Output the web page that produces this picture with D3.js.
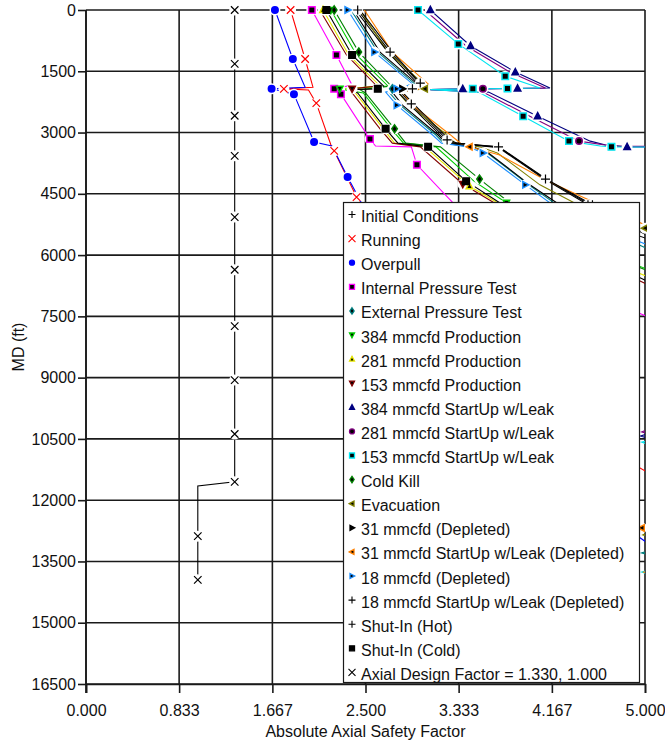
<!DOCTYPE html>
<html>
<head>
<meta charset="utf-8">
<script src="https://cdn.jsdelivr.net/npm/d3@7"></script>
<style>
  body { margin: 0; background: #fff; }
  text { font-family: "Liberation Sans", Arial, sans-serif; font-size: 16px; fill: #111; }
</style>
</head>
<body>
<svg id="chart" width="665" height="740"></svg>
<script>
// axis ticks
const xTicks = [0, 0.833, 1.667, 2.5, 3.333, 4.167, 5.0];
const xTickLabels = ["0.000", "0.833", "1.667", "2.500", "3.333", "4.167", "5.000"];
const yTicks = [0, 1500, 3000, 4500, 6000, 7500, 9000, 10500, 12000, 13500, 15000, 16500];

// series: [absolute axial safety factor, MD (ft), symbol plotted at this sample]
const initialConditions = [[2.43,0,1],[2.72,1030,1],[2.99,1810,0],[2.92,1930,1],[2.81,2010,0],[2.91,2300,1],[3.23,3180,1],[3.30,3260,0],[3.69,3350,1],[4.11,4140,1],[4.51,4770,0],[5.05,5510,0]];
const running = [[1.83,0,1],[1.96,1200,1],[2.03,1890,0],[1.77,1930,1],[1.99,1960,0],[2.06,2280,1],[2.19,3300,0],[2.22,3450,1],[2.42,4580,1],[2.72,5880,0],[3.17,7590,1],[3.88,9550,0],[4.60,10650,1],[5.05,11360,0]];
const overpull = [[1.69,0,1],[1.85,1200,1],[1.96,1890,0],[1.66,1930,1],[1.86,2060,1],[2.04,3230,1],[2.20,3330,0],[2.34,4090,1],[2.45,4650,0],[2.81,6610,1],[3.35,8810,0],[4.06,10770,1],[4.60,12240,0],[5.05,13100,0]];
const internalPressure = [[2.02,0,1],[2.24,1100,1],[2.38,1840,0],[2.22,1930,1],[2.28,2060,1],[2.54,3160,1],[2.59,3330,0],[2.91,3350,0],[2.96,3790,1],[3.24,4600,0],[3.52,5390,1],[4.24,6610,1],[5.05,7540,0]];
const externalPressure = [[2.37,0,0],[2.61,1030,0],[2.94,1810,0],[2.74,1930,1],[2.71,2010,0],[2.81,2330,0],[3.13,3060,0],[3.20,3260,0],[3.45,3350,0],[3.59,3500,0],[3.96,4280,0],[4.28,4900,1],[5.05,5880,0],[5.67,7100,0],[5.67,12730,0],[4.97,13290,0],[5.67,13830,0]];
const prod384 = [[2.19,0,1],[2.42,1100,0],[2.70,1860,0],[2.27,1930,1],[2.48,2030,0],[2.73,2910,0],[2.84,3260,0],[3.13,3350,0],[3.47,4190,0],[3.76,4720,1],[4.29,5630,0],[5.05,6370,0]];
const prod281 = [[2.12,0,1],[2.35,1100,0],[2.63,1860,0],[2.33,1930,0],[2.41,2030,0],[2.66,2910,0],[2.76,3260,0],[3.03,3350,0],[3.43,4310,1],[3.68,4720,0],[4.21,5630,0],[5.05,6560,0]];
const prod153 = [[2.09,0,0],[2.33,1100,0],[2.60,1860,0],[2.38,1930,1],[2.38,2030,0],[2.63,2910,0],[2.74,3260,0],[2.99,3350,0],[3.37,4260,1],[3.65,4720,0],[4.19,5630,0],[5.05,6760,0]];
const startup384 = [[3.08,0,1],[3.44,880,1],[3.84,1520,1],[4.15,1910,0],[3.86,1920,1],[3.37,1930,1],[3.08,1950,0],[3.60,2010,0],[4.04,2600,1],[4.51,3210,0],[4.64,3300,0],[4.84,3350,1],[5.67,3360,0],[5.67,9800,0],[4.96,10430,0],[5.67,11020,0]];
const startup281 = [[3.03,0,0],[3.40,880,0],[3.79,1520,0],[4.11,1910,0],[3.55,1930,1],[3.08,1950,0],[3.55,2010,0],[3.97,2600,0],[4.41,3210,1],[4.70,3330,0],[5.67,3350,0],[5.67,9550,0],[4.97,10330,0],[5.67,10890,0]];
const startup153 = [[2.97,0,1],[3.33,830,1],[3.75,1620,1],[4.06,1910,0],[3.77,1920,1],[3.46,1930,1],[3.08,1950,0],[3.51,2010,0],[3.91,2600,1],[4.32,3210,1],[4.60,3330,0],[4.70,3350,1],[5.67,3360,0],[5.67,10040,0],[4.97,10580,0],[5.67,11260,0],[5.67,13220,0],[4.97,13760,0],[5.67,14440,0]];
const coldKill = [[2.22,0,1],[2.44,1030,1],[2.73,1860,0],[2.45,1950,0],[2.50,2030,0],[2.76,2910,1],[2.86,3260,0],[3.17,3350,0],[3.52,4140,1],[3.79,4720,0],[4.33,5630,1],[5.05,6410,0]];
const evacuation = [[2.45,0,0],[2.70,1030,0],[3.02,1810,0],[3.03,1930,1],[2.79,2010,0],[2.89,2330,0],[3.23,3060,0],[3.30,3260,0],[3.52,3350,0],[3.68,3500,0],[4.06,4280,0],[4.40,4770,0],[5.00,5340,1],[5.67,6000,0],[5.67,12000,0],[4.98,12850,0],[5.67,13460,0]];
const depleted31 = [[2.39,0,0],[2.63,1030,0],[2.96,1810,0],[2.83,1930,1],[2.74,2010,0],[2.83,2330,0],[3.15,3060,0],[3.22,3260,0],[3.46,3350,0],[3.60,3500,0],[3.97,4280,0],[4.31,4900,1],[5.05,5630,0]];
const depletedStartup31 = [[2.49,0,0],[2.74,1030,0],[3.06,1810,0],[2.99,1930,0],[2.83,2010,0],[2.92,2330,0],[3.26,3060,0],[3.35,3260,0],[3.43,3350,1],[3.70,3550,0],[4.11,4160,0],[4.44,4580,0],[5.00,5260,0],[5.67,5880,0],[5.67,12000,0],[4.97,12680,1],[5.67,13100,0],[5.67,13460,0],[4.98,13760,0],[5.67,14200,0]];
const depleted18 = [[2.34,0,1],[2.58,1030,1],[2.92,1810,0],[2.78,1930,1],[2.68,2010,0],[2.78,2330,1],[3.10,3060,0],[3.18,3260,0],[3.42,3350,0],[3.55,3500,1],[3.93,4280,1],[4.24,4900,0],[5.05,5780,0]];
const depletedStartup18 = [[2.45,0,0],[2.74,1030,0],[2.99,1790,1],[2.94,1930,0],[2.83,2010,0],[2.93,2300,0],[3.25,3180,0],[3.32,3260,0],[3.71,3380,0],[4.13,4160,0],[4.53,4770,1],[5.05,5460,0]];
const shutInHot = [[2.41,0,0],[2.70,1030,0],[2.97,1810,0],[2.91,1930,0],[2.79,2010,0],[2.89,2300,0],[3.21,3180,0],[3.28,3260,0],[3.68,3350,0],[4.10,4140,0],[4.49,4770,1],[5.05,5560,0]];
const shutInCold = [[2.15,0,1],[2.38,1100,1],[2.66,1860,0],[2.61,1930,1],[2.36,1950,0],[2.43,2030,0],[2.68,2910,1],[2.79,3260,0],[3.06,3350,1],[3.40,4190,1],[3.70,4720,0],[4.24,5630,1],[5.05,6680,0]];
const designFactor = [[1.33,0,1],[1.33,1320,1],[1.33,2590,1],[1.33,3570,1],[1.33,5070,1],[1.33,6360,1],[1.33,7740,1],[1.33,9060,1],[1.33,10380,1],[1.33,11550,1],[1.00,11650,0],[1.00,12880,1],[1.00,13950,1]];

const seriesNames = ["Initial Conditions", "Running", "Overpull", "Internal Pressure Test", "External Pressure Test",
  "384 mmcfd Production", "281 mmcfd Production", "153 mmcfd Production", "384 mmcfd StartUp w/Leak",
  "281 mmcfd StartUp w/Leak", "153 mmcfd StartUp w/Leak", "Cold Kill", "Evacuation", "31 mmcfd (Depleted)",
  "31 mmcfd StartUp w/Leak (Depleted)", "18 mmcfd (Depleted)", "18 mmcfd StartUp w/Leak (Depleted)",
  "Shut-In (Hot)", "Shut-In (Cold)", "Axial Design Factor = 1.330, 1.000"];
const seriesData = [initialConditions, running, overpull, internalPressure, externalPressure, prod384, prod281, prod153,
  startup384, startup281, startup153, coldKill, evacuation, depleted31, depletedStartup31, depleted18,
  depletedStartup18, shutInHot, shutInCold, designFactor];
const seriesColors = ["#000000", "#ff0000", "#0000ff", "#ff00ff", "#008080", "#00cc00", "#e6e600", "#800000",
  "#000080", "#800080", "#00e5f0", "#008000", "#808000", "#000000", "#ff8000", "#1e90ff", "#000000",
  "#000000", "#000000", "#000000"];
const seriesSymbols = ["plus", "cross", "circle", "square", "diamond", "triDown", "triUp", "triDown", "triUp",
  "circle", "square", "diamond", "triLeft", "triRight", "triLeft", "triRight", "plus", "plus", "square", "cross"];

// layout
const margin = { top: 10, right: 20, bottom: 56, left: 86 };
const W = 665, H = 740;
const w = W - margin.left - margin.right;
const h = H - margin.top - margin.bottom;

const svg = d3.select("#chart");

const xScale = d3.scaleLinear().domain([0, 5]).range([margin.left, margin.left + w]);
const yScale = d3.scaleLinear().domain([0, 16500]).range([margin.top, margin.top + h]);

// grid
svg.append("g").selectAll("line.vg").data(xTicks).join("line")
  .attr("x1", d => xScale(d)).attr("x2", d => xScale(d))
  .attr("y1", margin.top).attr("y2", margin.top + h)
  .attr("stroke", "#1a1a1a").attr("stroke-width", 1.6);
svg.append("g").selectAll("line.hg").data(yTicks).join("line")
  .attr("x1", margin.left).attr("x2", margin.left + w)
  .attr("y1", d => yScale(d)).attr("y2", d => yScale(d))
  .attr("stroke", "#1a1a1a").attr("stroke-width", 1.6);

// axes
const xAxis = svg.append("g")
  .attr("transform", `translate(0,${margin.top + h})`)
  .call(d3.axisBottom(xScale).tickValues(xTicks).tickFormat((d, i) => xTickLabels[i]).tickSize(9).tickPadding(12));
const yAxis = svg.append("g")
  .attr("transform", `translate(${margin.left},0)`)
  .call(d3.axisLeft(yScale).tickValues(yTicks).tickFormat(d => d).tickSize(8).tickPadding(2));
[xAxis, yAxis].forEach(a => {
  a.select(".domain").attr("stroke", "#1a1a1a").attr("stroke-width", 1.6);
  a.selectAll(".tick line").attr("stroke", "#1a1a1a").attr("stroke-width", 1.6);
  a.selectAll("text").attr("font-size", 16).attr("font-family", null).style("fill", "#111");
});
yAxis.select(".domain").attr("d", `M0,${margin.top}V${margin.top + h + 9}`);

svg.append("text")
  .attr("x", xScale(2.5)).attr("y", 737)
  .attr("text-anchor", "middle")
  .text("Absolute Axial Safety Factor");
svg.append("text")
  .attr("transform", `translate(24,${margin.top + h / 2}) rotate(-90)`)
  .attr("text-anchor", "middle")
  .text("MD (ft)");

// symbols
function symbolPath(type, s) {
  const r = s / 2;
  switch (type) {
    case "plus": return `M${-r},0H${r}M0,${-r}V${r}`;
    case "cross": return `M${-r},${-r}L${r},${r}M${-r},${r}L${r},${-r}`;
    case "circle": return d3.symbol(d3.symbolCircle, Math.PI * r * r)();
    case "square": return `M${-r},${-r}H${r}V${r}H${-r}Z`;
    case "diamond": return `M0,${-r * 1.25}L${r * 0.85},0L0,${r * 1.25}L${-r * 0.85},0Z`;
    case "triUp": return `M0,${-r * 1.1}L${r},${r * 0.8}L${-r},${r * 0.8}Z`;
    case "triDown": return `M0,${r * 1.1}L${r},${-r * 0.8}L${-r},${-r * 0.8}Z`;
    case "triLeft": return `M${-r * 1.1},0L${r * 0.8},${-r}L${r * 0.8},${r}Z`;
    case "triRight": return `M${r * 1.1},0L${-r * 0.8},${-r}L${-r * 0.8},${r}Z`;
  }
}
const lineSymbol = t => t === "plus" || t === "cross";
const symbolFill = i => (seriesColors[i] === "#0000ff" || seriesColors[i] === "#000080") ? seriesColors[i] : "#000";
const plotSize = t => t === "plus" ? 9 : t === "cross" ? 7.5 : 6.5;

// clip
const defs = svg.append("defs");
defs.append("clipPath").attr("id", "plotClip").append("rect")
  .attr("x", margin.left).attr("y", margin.top).attr("width", w).attr("height", h);
defs.append("clipPath").attr("id", "markClip").append("rect")
  .attr("x", 0).attr("y", 0).attr("width", margin.left + w + 2).attr("height", H);

const line = d3.line().x(d => xScale(d[0])).y(d => yScale(d[1]));

// lines
const lineLayer = svg.append("g").attr("clip-path", "url(#plotClip)");
lineLayer.selectAll("path")
  .data(seriesData.map((pts, i) => ({ pts, i })))
  .join("path")
  .attr("d", d => line(d.pts))
  .attr("fill", "none")
  .attr("stroke", d => seriesColors[d.i])
  .attr("stroke-width", 1.1);

// markers
const marks = [];
seriesData.forEach((pts, i) => pts.forEach(p => { if (p[2]) marks.push({ v: p[0], md: p[1], i }); }));
const markLayer = svg.append("g").attr("clip-path", "url(#markClip)");
markLayer.selectAll("circle.halo").data(marks).join("circle")
  .attr("class", "halo")
  .attr("cx", d => xScale(d.v)).attr("cy", d => yScale(d.md))
  .attr("r", 5.5).attr("fill", "#fff");
markLayer.selectAll("path.mk").data(marks).join("path")
  .attr("class", "mk")
  .attr("transform", d => `translate(${xScale(d.v)},${yScale(d.md)})`)
  .attr("d", d => symbolPath(seriesSymbols[d.i], plotSize(seriesSymbols[d.i])))
  .attr("fill", d => lineSymbol(seriesSymbols[d.i]) ? "none" : symbolFill(d.i))
  .attr("stroke", d => seriesColors[d.i])
  .attr("stroke-width", d => lineSymbol(seriesSymbols[d.i]) ? 1.2 : 1.5);

// legend
const legend = svg.append("g");
legend.append("rect")
  .attr("x", 343.5).attr("y", 202.5).attr("width", 296).attr("height", 480)
  .attr("fill", "#fff").attr("stroke", "#1a1a1a").attr("stroke-width", 1.2);
const rowH = 24.1;
const entry = legend.selectAll("g.entry")
  .data(seriesNames.map((name, i) => ({ name, i })))
  .join("g")
  .attr("class", "entry")
  .attr("transform", d => `translate(0,${222 + d.i * rowH})`);
entry.append("path")
  .attr("transform", "translate(352,-7.5)")
  .attr("d", d => symbolPath(seriesSymbols[d.i], lineSymbol(seriesSymbols[d.i]) ? 7 : 5))
  .attr("fill", d => lineSymbol(seriesSymbols[d.i]) ? "none" : symbolFill(d.i))
  .attr("stroke", d => seriesColors[d.i])
  .attr("stroke-width", d => lineSymbol(seriesSymbols[d.i]) ? 1.1 : 1.3);
entry.append("text")
  .attr("x", 361).attr("y", 0)
  .text(d => d.name);
</script>
</body>
</html>
